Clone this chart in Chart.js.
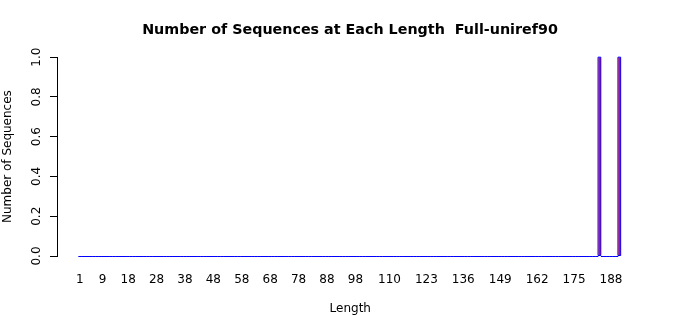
<!DOCTYPE html>
<html>
<head>
<meta charset="utf-8">
<script src="https://cdn.jsdelivr.net/npm/chart.js@4/dist/chart.umd.min.js"></script>
<style>
html,body{margin:0;padding:0;background:#fff;}
canvas{display:block;}
</style>
</head>
<body>
<canvas id="c" width="700" height="315"></canvas>
<script>
// ---- data ----
const minLength = 1;
const maxLength = 191;
const peakLengths = [184, 191];
const peakCounts = [1, 1];
const xTickLabels = [1, 9, 18, 28, 38, 48, 58, 68, 78, 88, 98, 110, 123, 136, 149, 162, 175, 188];
const yTickValues = [0, 0.2, 0.4, 0.6, 0.8, 1.0];
const chartTitle = 'Number of Sequences at Each Length  Full-uniref90';
const xTitle = 'Length';
const yTitle = 'Number of Sequences';

// bar table: every length present, counts zero except the peaks
const barData = [];
for (let L = minLength; L <= maxLength; L++) {
  const k = peakLengths.indexOf(L);
  barData.push({ x: L, y: k >= 0 ? peakCounts[k] : 0 });
}

const FONT = "'DejaVu Sans', sans-serif";
const BAR_BORDER = '#0000ff';

// R-style bar outlines: stroke each bar element's rectangle centred on its edges
const rBarBorders = {
  id: 'rBarBorders',
  afterDatasetsDraw(chart) {
    const ctx = chart.ctx;
    const meta = chart.getDatasetMeta(0);
    ctx.save();
    ctx.strokeStyle = BAR_BORDER;
    ctx.lineWidth = 1;
    ctx.lineCap = 'round';
    ctx.lineJoin = 'round';
    meta.data.forEach(el => {
      const p = el.getProps(['x', 'y', 'base', 'width'], true);
      const l = p.x - p.width / 2;
      if (Math.abs(p.base - p.y) < 0.01) {
        const yy = Math.round(p.base - 0.5) + 0.5;
        ctx.beginPath();
        ctx.moveTo(l, yy);
        ctx.lineTo(l + p.width, yy);
        ctx.stroke();
      } else {
        ctx.strokeRect(l, p.y, p.width, p.base - p.y);
      }
    });
    ctx.restore();
  }
};

new Chart(document.getElementById('c'), {
  type: 'bar',
  data: {
    datasets: [{
      data: barData,
      backgroundColor: '#ff0000',
      borderWidth: 0,
      barPercentage: 1 / 1.2,
      categoryPercentage: 1.0,
      xAxisID: 'x',
      yAxisID: 'y'
    }]
  },
  plugins: [rBarBorders],
  options: {
    responsive: false,
    animation: false,
    devicePixelRatio: 1,
    layout: { padding: 0 },
    plugins: {
      legend: { display: false },
      tooltip: { enabled: false },
      title: {
        display: true,
        text: chartTitle,
        color: '#000',
        font: { family: FONT, size: 14.3, weight: 'bold' },
        padding: { top: 22, bottom: 18 }
      }
    },
    scales: {
      x: {
        type: 'linear',
        offset: false,
        min: -7.06,
        max: 199.45,
        grid: { display: false, drawTicks: false },
        border: { display: false },
        afterBuildTicks: s => { s.ticks = xTickLabels.map(v => ({ value: v })); },
        afterFit: s => { s.height = 59; },
        ticks: {
          autoSkip: false, maxRotation: 0, minRotation: 0, padding: 17,
          color: '#000', font: { family: FONT, size: 12 },
          callback: v => String(v)
        },
        title: {
          display: true, text: xTitle, color: '#000',
          font: { family: FONT, size: 12 },
          padding: { top: 11, bottom: -1 }
        }
      },
      y: {
        min: 0, max: 1, position: 'left',
        afterBuildTicks: s => { s.ticks = yTickValues.map(v => ({ value: v })); },
        afterFit: s => { s.width = 57; },
        grid: { drawOnChartArea: false, drawTicks: true, tickLength: 7, color: '#000', lineWidth: 1 },
        border: { display: true, color: '#000', width: 1 },
        ticks: {
          minRotation: 90, maxRotation: 90, crossAlign: 'center', padding: 3.5,
          color: '#000', font: { family: FONT, size: 12 },
          callback: v => Number(v).toFixed(1)
        },
        title: {
          display: true, text: yTitle, color: '#000',
          font: { family: FONT, size: 12 },
          padding: { top: 1, bottom: 0 }
        }
      },
      yRight: {
        position: 'right', display: true, min: 0, max: 1,
        grid: { display: false, drawTicks: false },
        border: { display: false },
        ticks: { display: false },
        afterFit: s => { s.width = 56.5; }
      }
    }
  }
});
</script>
</body>
</html>
